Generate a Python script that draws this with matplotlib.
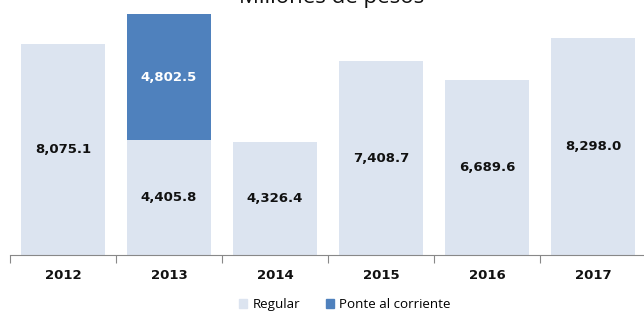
import matplotlib
matplotlib.use("Agg")
import matplotlib.pyplot as plt
from matplotlib.patches import Patch

years = ["2012", "2013", "2014", "2015", "2016", "2017"]
regular = [8075.1, 4405.8, 4326.4, 7408.7, 6689.6, 8298.0]
ponte = [0, 4802.5, 0, 0, 0, 0]

c_reg = "#DCE4F0"
c_pon = "#4F81BD"

fig = plt.figure(figsize=(6.44, 3.13), dpi=100)
ax = fig.add_axes([10/644, 58/313, 636/644, 255/313])
x = list(range(len(years)))
ax.bar(x, regular, width=0.79, color=c_reg)
ax.bar(x, ponte, width=0.79, bottom=regular, color=c_pon)

for i in x:
    ax.text(i, regular[i] / 2, f"{regular[i]:,.1f}", ha="center", va="center",
            fontsize=9.5, fontweight="bold", color="#111111")
    if ponte[i] > 0:
        ax.text(i, regular[i] + ponte[i] / 2, f"{ponte[i]:,.1f}", ha="center", va="center",
                fontsize=9.5, fontweight="bold", color="white")

ax.set_xlim(-0.5, 5.5)
ax.set_ylim(0, 9760)
ax.set_yticks([])
ax.set_xticks([i - 0.5 for i in range(7)], minor=False)
ax.set_xticklabels([])
ax.set_xticks(x, minor=True)
ax.set_xticklabels(years, minor=True, fontsize=9.5, fontweight="bold", color="#111111")
ax.tick_params(axis="x", which="major", length=6, color="#888888", width=0.8)
ax.tick_params(axis="x", which="minor", length=0, pad=10)
for s in ["top", "right", "left"]:
    ax.spines[s].set_visible(False)
ax.spines["bottom"].set_color("#888888")
ax.spines["bottom"].set_linewidth(0.8)

fig.text(332/644, 1 - 3.5/313, "Millones de pesos", ha="center", va="baseline",
         fontsize=16, color="#111111", family="Open Sans")

handles = [Patch(color=c_reg, label="Regular"), Patch(color=c_pon, label="Ponte al corriente")]
fig.legend(handles=handles, loc="center", bbox_to_anchor=(345/644, 1 - 304.5/313), ncol=2,
           frameon=False, handlelength=0.6, handleheight=0.6,
           columnspacing=1.9, handletextpad=0.4, prop={"family": "Open Sans", "size": 9.6})

fig.savefig("out.png", dpi=100)
